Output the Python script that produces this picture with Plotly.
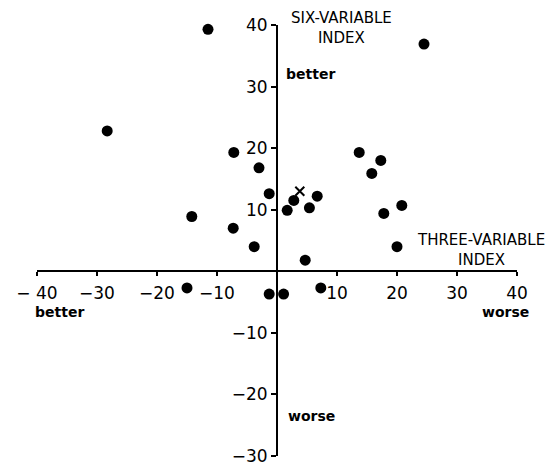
import plotly.graph_objects as go

# Three-variable index (x) vs six-variable index (y)
three_var = [-11.5, -28.3, -7.2, -3.0, -1.3, -14.2, -7.3, 24.5, 13.7, 17.3, 15.8,
             2.8, 6.7, 1.7, 5.4, 17.8, 20.8, -3.8, -15.0, -1.3, 4.7, 20.0, 1.1, 7.3]
six_var = [39.3, 22.8, 19.3, 16.8, 12.6, 8.9, 7.0, 36.9, 19.3, 18.0, 15.9,
           11.5, 12.2, 9.9, 10.3, 9.4, 10.7, 4.0, -2.7, -3.7, 1.8, 4.0, -3.7, -2.7]
# highlighted point marked "x"
x_mark = [3.8]
y_mark = [13.0]

x_ticks = [-40, -30, -20, -10, 10, 20, 30, 40]
x_ticktext = ["\u2212 40", "\u221230", "\u221220", "\u221210", "10", "20", "30", "40"]
y_ticks = [-30, -20, -10, 10, 20, 30, 40]
y_ticktext = ["\u221230", "\u221220", "\u221210", "10", "20", "30", "40"]

FONT = "DejaVu Sans"

fig = go.Figure()
fig.add_trace(go.Scatter(
    x=three_var, y=six_var, mode="markers",
    marker=dict(size=11, color="black"), cliponaxis=False, showlegend=False))
fig.add_trace(go.Scatter(
    x=x_mark, y=y_mark, mode="markers",
    marker=dict(size=9, symbol="x-thin", line=dict(width=2, color="black"), color="black"),
    cliponaxis=False, showlegend=False))

# page body has an 8px margin, so the figure is drawn 8px in and 8px smaller
fig.update_layout(
    width=552, height=458,
    margin=dict(l=29, r=43, t=17, b=10, autoexpand=False),
    paper_bgcolor="white", plot_bgcolor="white",
    font=dict(family=FONT, color="black", size=17),
    xaxis=dict(range=[-40, 40], showgrid=False, zeroline=False, automargin=False,
               showline=True, linewidth=2, linecolor="black",
               anchor="free", position=30/70,
               ticks="outside", ticklen=4, tickwidth=2, tickcolor="black",
               tickvals=x_ticks, ticktext=x_ticktext, ticklabelstandoff=2,
               ticklabeloverflow="allow",
               tickfont=dict(family=FONT, size=17)),
    yaxis=dict(range=[-30, 40], showgrid=False, zeroline=False, automargin=False,
               showline=True, linewidth=2, linecolor="black",
               anchor="free", position=0.5,
               ticks="outside", ticklen=5, tickwidth=2, tickcolor="black",
               tickvals=y_ticks, ticktext=y_ticktext,
               ticklabeloverflow="allow",
               tickfont=dict(family=FONT, size=17)),
)

ann_font = dict(family=FONT, size=15, color="black")
bold_font = dict(family=FONT, size=14, color="black")
fig.add_annotation(x=10.7, xref="x", y=1.0, yref="paper", yshift=-3,
                   text="SIX-VARIABLE<br>INDEX", showarrow=False,
                   xanchor="center", yanchor="middle", font=ann_font, align="center")
fig.add_annotation(x=1.2, y=32.0, text="<b>better</b>", showarrow=False,
                   xanchor="left", yanchor="middle", font=bold_font)
fig.add_annotation(x=34.0, y=3.4, text="THREE-VARIABLE<br>INDEX", showarrow=False,
                   xanchor="center", yanchor="middle", font=ann_font, align="center")
fig.add_annotation(x=38.0, y=-6.6, text="<b>worse</b>", showarrow=False,
                   xanchor="center", yanchor="middle", font=bold_font)
fig.add_annotation(x=-36.3, y=-6.6, text="<b>better</b>", showarrow=False,
                   xanchor="center", yanchor="middle", font=bold_font)
fig.add_annotation(x=1.5, y=-23.5, text="<b>worse</b>", showarrow=False,
                   xanchor="left", yanchor="middle", font=bold_font)

fig.write_html("out.html")
